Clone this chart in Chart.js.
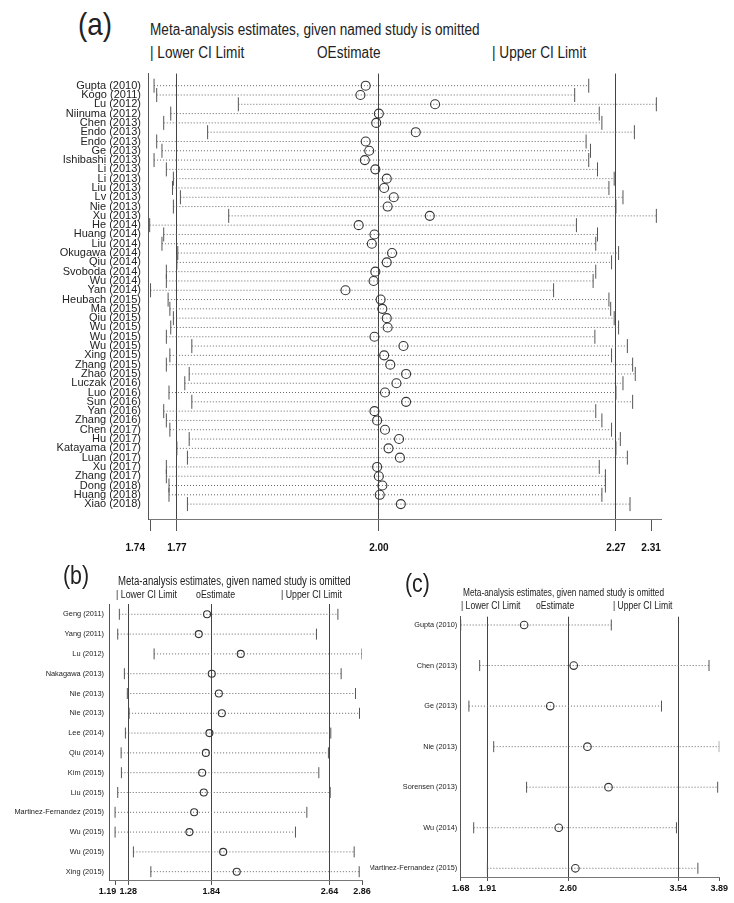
<!DOCTYPE html>
<html lang="en">
<head>
<meta charset="UTF-8">
<title>Leave-one-out meta-analysis plots</title>
<script src="https://cdn.jsdelivr.net/npm/chart.js"></script>
<style>
  body {
    margin: 0;
    width: 734px;
    height: 903px;
    position: relative;
    overflow: hidden;
    background: #fff;
    color: #222;
    font-family: 'Liberation Sans', Arial, sans-serif;
  }
  .txt { position: absolute; white-space: nowrap; line-height: 1; transform-origin: left top; }
  .box { position: absolute; }
</style>
</head>
<body>

  <!-- panel (a) -->
  <div class="txt" style="left:78px; top:8px; font-size:32px; transform:scaleX(0.87);">(a)</div>
  <div class="txt" style="left:150px; top:22px; font-size:16px; transform:scaleX(0.85);">Meta-analysis estimates, given named study is omitted</div>
  <div class="txt" style="left:150px; top:45px; font-size:16px; transform:scaleX(0.85);">| Lower CI Limit</div>
  <div class="txt" style="left:317px; top:45px; font-size:16px; transform:scaleX(0.85);">OEstimate</div>
  <div class="txt" style="left:492px; top:45px; font-size:16px; transform:scaleX(0.85);">| Upper CI Limit</div>
  <div class="box" style="left:0; top:60px; width:700px; height:510px;"><canvas id="chartA"></canvas></div>

  <!-- panel (b) -->
  <div class="txt" style="left:63px; top:562px; font-size:26px; transform:scaleX(0.82);">(b)</div>
  <div class="txt" style="left:118px; top:575px; font-size:12px; transform:scaleX(0.8);">Meta-analysis estimates, given named study is omitted</div>
  <div class="txt" style="left:116px; top:589px; font-size:11px; transform:scaleX(0.8);">| Lower CI Limit</div>
  <div class="txt" style="left:196px; top:589px; font-size:11px; transform:scaleX(0.8);">oEstimate</div>
  <div class="txt" style="left:281px; top:589px; font-size:11px; transform:scaleX(0.8);">| Upper CI Limit</div>
  <div class="box" style="left:0; top:560px; width:390px; height:343px;"><canvas id="chartB"></canvas></div>

  <!-- panel (c) -->
  <div class="txt" style="left:405px; top:570px; font-size:26px; transform:scaleX(0.82);">(c)</div>
  <div class="txt" style="left:463px; top:587px; font-size:10.5px; transform:scaleX(0.79);">Meta-analysis estimates, given named study is omitted</div>
  <div class="txt" style="left:461px; top:600px; font-size:11px; transform:scaleX(0.78);">| Lower CI Limit</div>
  <div class="txt" style="left:536px; top:600px; font-size:11px; transform:scaleX(0.78);">oEstimate</div>
  <div class="txt" style="left:613px; top:600px; font-size:11px; transform:scaleX(0.78);">| Upper CI Limit</div>
  <div class="box" style="left:370px; top:560px; width:364px; height:343px;"><canvas id="chartC"></canvas></div>

  <script>
    // ---- panel (a) data ----
    const studiesA = ['Gupta (2010)', 'Kogo (2011)', 'Lu (2012)', 'Niinuma (2012)', 'Chen (2013)', 'Endo (2013)',
      'Endo (2013)', 'Ge (2013)', 'Ishibashi (2013)', 'Li (2013)', 'Li (2013)', 'Liu (2013)', 'Lv (2013)',
      'Nie (2013)', 'Xu (2013)', 'He (2014)', 'Huang (2014)', 'Liu (2014)', 'Okugawa (2014)', 'Qiu (2014)',
      'Svoboda (2014)', 'Wu (2014)', 'Yan (2014)', 'Heubach (2015)', 'Ma (2015)', 'Qiu (2015)', 'Wu (2015)',
      'Wu (2015)', 'Wu (2015)', 'Xing (2015)', 'Zhang (2015)', 'Zhao (2015)', 'Luczak (2016)', 'Luo (2016)',
      'Sun (2016)', 'Yan (2016)', 'Zhang (2016)', 'Chen (2017)', 'Hu (2017)', 'Katayama (2017)', 'Luan (2017)',
      'Xu (2017)', 'Zhang (2017)', 'Dong (2018)', 'Huang (2018)', 'Xiao (2018)'];
    const lowerA = [1.744, 1.747, 1.840, 1.763, 1.755, 1.805, 1.747, 1.753, 1.744, 1.758,
      1.766, 1.765, 1.774, 1.766, 1.829, 1.739, 1.755, 1.753, 1.771, 1.770,
      1.758, 1.758, 1.740, 1.760, 1.762, 1.766, 1.763, 1.758, 1.787, 1.762,
      1.758, 1.784, 1.779, 1.761, 1.787, 1.755, 1.758, 1.762, 1.784, 1.770,
      1.782, 1.758, 1.758, 1.761, 1.761, 1.782];
    const estA = [1.985, 1.979, 2.064, 2.000, 1.997, 2.042, 1.985, 1.989, 1.984, 1.996,
      2.009, 2.006, 2.017, 2.010, 2.058, 1.977, 1.995, 1.992, 2.015, 2.009,
      1.996, 1.994, 1.962, 2.002, 2.004, 2.009, 2.010, 1.995, 2.028, 2.006,
      2.013, 2.031, 2.020, 2.007, 2.031, 1.995, 1.998, 2.007, 2.023, 2.011,
      2.024, 1.998, 2.000, 2.004, 2.001, 2.025];
    const upperA = [2.239, 2.223, 2.316, 2.251, 2.254, 2.291, 2.236, 2.241, 2.239, 2.249,
      2.268, 2.262, 2.278, 2.270, 2.316, 2.225, 2.249, 2.247, 2.273, 2.265,
      2.247, 2.244, 2.199, 2.262, 2.264, 2.268, 2.273, 2.246, 2.283, 2.265,
      2.289, 2.292, 2.278, 2.270, 2.289, 2.247, 2.254, 2.265, 2.275, 2.270,
      2.283, 2.251, 2.258, 2.258, 2.254, 2.286];
    const ticksA = [1.74, 1.77, 2.00, 2.27, 2.31];
    const refsA = [1.77, 2.00, 2.27];

    // ---- panel (b) data ----
    const studiesB = ['Geng (2011)', 'Yang (2011)', 'Lu (2012)', 'Nakagawa (2013)', 'Nie (2013)', 'Nie (2013)',
      'Lee (2014)', 'Qiu (2014)', 'Kim (2015)', 'Liu (2015)', 'Martinez-Fernandez (2015)', 'Wu (2015)',
      'Wu (2015)', 'Xing (2015)'];
    const lowerB = [1.219, 1.208, 1.454, 1.253, 1.273, 1.285, 1.260, 1.231, 1.233, 1.208, 1.190, 1.190, 1.314, 1.432];
    const estB = [1.812, 1.756, 2.040, 1.844, 1.892, 1.912, 1.828, 1.804, 1.779, 1.790, 1.725, 1.693, 1.921, 2.013];
    const upperB = [2.697, 2.552, 2.860, 2.719, 2.816, 2.843, 2.649, 2.633, 2.568, 2.645, 2.487, 2.410, 2.807, 2.841];
    const ticksB = [1.19, 1.28, 1.84, 2.64, 2.86];
    const refsB = [1.28, 1.84, 2.64];

    // ---- panel (c) data ----
    const studiesC = ['Gupta (2010)', 'Chen (2013)', 'Ge (2013)', 'Nie (2013)', 'Sorensen (2013)', 'Wu (2014)',
      'Martinez-Fernandez (2015)'];
    const lowerC = [1.680, 1.842, 1.750, 1.962, 2.243, 1.791, 1.908];
    const estC = [2.222, 2.646, 2.445, 2.763, 2.943, 2.518, 2.660];
    const upperC = [2.967, 3.802, 3.396, 3.890, 3.876, 3.524, 3.707];
    const ticksC = [1.68, 1.91, 2.60, 3.54, 3.89];
    const refsC = [1.91, 2.60, 3.54];

    const FONT = "'Liberation Sans', Arial, sans-serif";

    function forest(id, p) {
      const pts = arr => arr.map((v, i) => ({ x: v, y: i }));
      // dotted CI lines, one segment per study, broken by empty points
      const segs = [];
      p.lower.forEach((lo, i) => {
        segs.push({ x: lo, y: i }, { x: p.upper[i], y: i }, { x: NaN, y: NaN });
      });

      return new Chart(document.getElementById(id), {
        type: 'scatter',
        data: {
          datasets: [
            { data: pts(p.est), pointStyle: 'circle', pointRadius: p.circle, borderColor: '#333',
              backgroundColor: 'rgba(0,0,0,0)', borderWidth: 1.1 },
            { data: pts(p.lower), pointStyle: 'line', rotation: 90, pointRadius: p.mark,
              borderColor: '#555', borderWidth: 1 },
            { data: pts(p.upper), pointStyle: 'line', rotation: 90, pointRadius: p.mark,
              borderColor: '#555', borderWidth: 1 },
            { data: segs, showLine: true, spanGaps: false, pointRadius: 0, borderColor: '#666',
              borderWidth: 1, borderDash: [1, 2] }
          ]
        },
        options: {
          responsive: true,
          maintainAspectRatio: false,
          animation: false,
          devicePixelRatio: 1,
          events: [],
          layout: { padding: p.pad },
          plugins: { legend: { display: false }, tooltip: { enabled: false } },
          scales: {
            x: {
              type: 'linear',
              min: p.xmin,
              max: p.xmax,
              afterBuildTicks: s => { s.ticks = p.ticks.map(v => ({ value: v })); },
              afterFit: s => { s.height = p.xh; },
              grid: {
                color: c => (c.tick && p.refs.includes(c.tick.value)) ? '#444' : 'rgba(0,0,0,0)',
                tickColor: '#555',
                tickLength: p.tickLen
              },
              border: { color: '#777' },
              ticks: {
                autoSkip: false,
                maxRotation: 0,
                padding: p.xpad,
                color: '#111',
                font: { family: FONT, size: p.xfont, weight: 'bold' },
                callback: (v, i) => v.toFixed(2) + (i === 0 ? '\u00a0'.repeat(p.firstShift) : '')
              }
            },
            y: {
              type: 'linear',
              reverse: true,
              min: p.ymin,
              max: p.ymax,
              afterBuildTicks: s => { s.ticks = p.names.map((_, i) => ({ value: i })); },
              afterFit: s => { s.width = p.yw; },
              grid: { display: false, drawTicks: false },
              border: { color: '#555' },
              ticks: {
                autoSkip: false,
                padding: p.ypad,
                color: '#222',
                font: { family: FONT, size: p.yfont },
                callback: v => p.names[v]
              }
            }
          }
        }
      });
    }

    forest('chartA', {
      names: studiesA, lower: lowerA, est: estA, upper: upperA, ticks: ticksA, refs: refsA,
      xmin: 1.7371, xmax: 2.3213, ymin: -1.3, ymax: 46.6,
      pad: { top: 13, right: 39, left: 0, bottom: 0 }, xh: 51, yw: 148,
      tickLen: 12, xpad: 11, xfont: 10, ypad: 7, yfont: 11,
      circle: 4.5, mark: 7, firstShift: 11
    });

    forest('chartB', {
      names: studiesB, lower: lowerB, est: estB, upper: upperB, ticks: ticksB, refs: refsB,
      xmin: 1.149, xmax: 2.86, ymin: -0.52, ymax: 13.42,
      pad: { top: 44, right: 28, left: 0, bottom: 0 }, xh: 23, yw: 109,
      tickLen: 5, xpad: 1, xfont: 9, ypad: 5, yfont: 7.4,
      circle: 3.5, mark: 5.5, firstShift: 6
    });

    forest('chartC', {
      names: studiesC, lower: lowerC, est: estC, upper: upperC, ticks: ticksC, refs: refsC,
      xmin: 1.68, xmax: 3.89, ymin: -0.205, ymax: 6.215,
      pad: { top: 56.7, right: 14.7, left: 0, bottom: 0 }, xh: 26, yw: 90.7,
      tickLen: 4, xpad: 2, xfont: 9, ypad: 3.5, yfont: 7.3,
      circle: 3.8, mark: 5.5, firstShift: 0
    });
  </script>
</body>
</html>
